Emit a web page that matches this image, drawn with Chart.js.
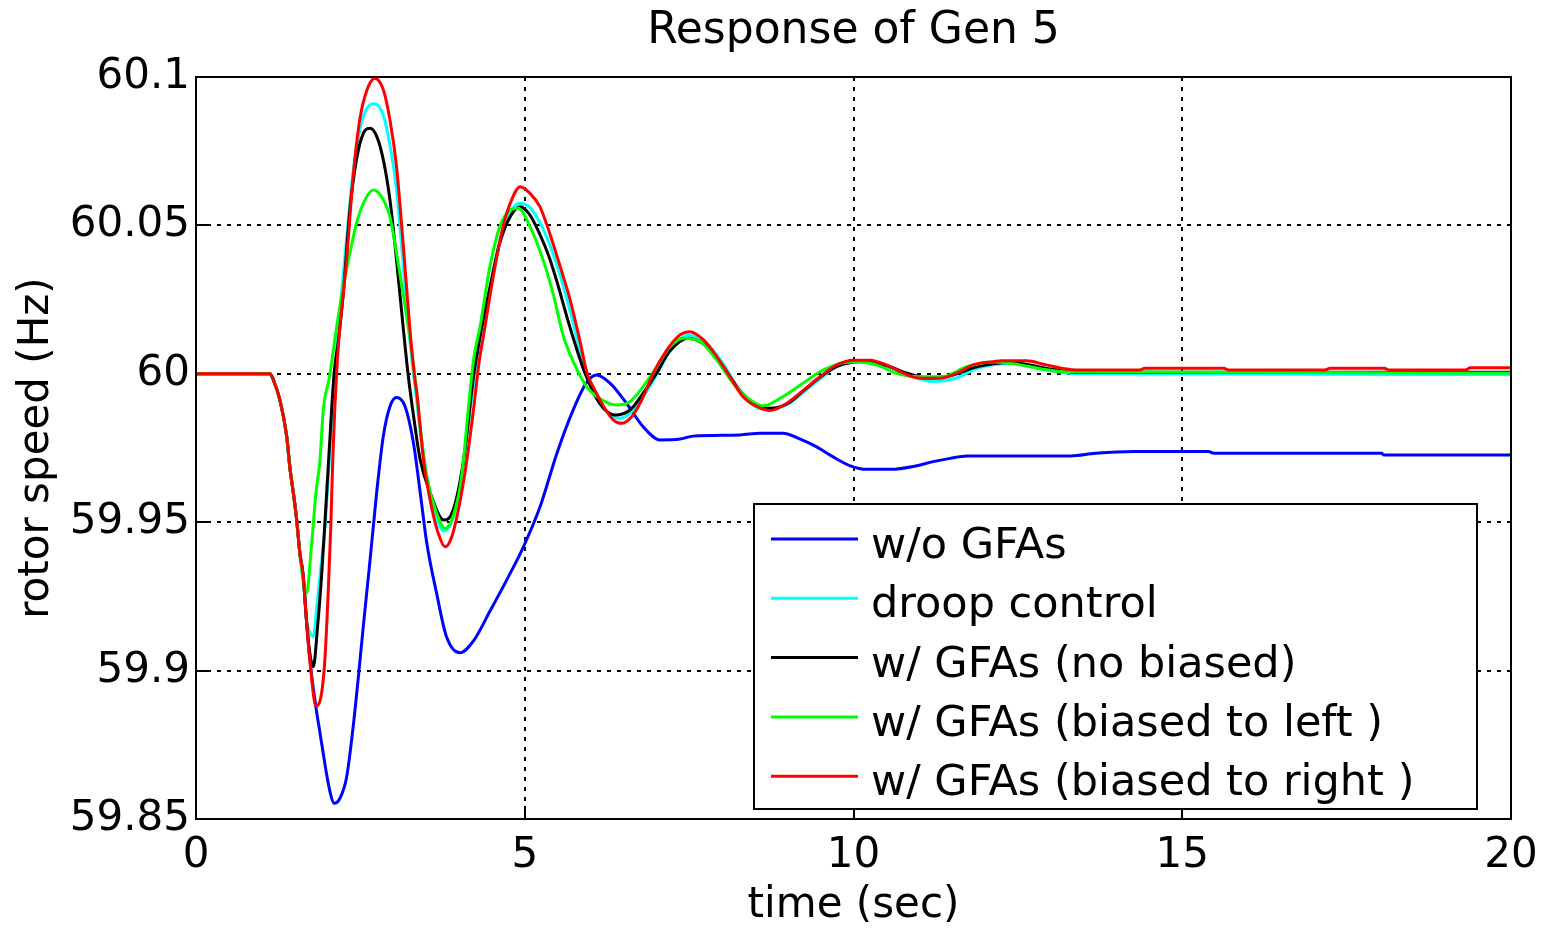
<!DOCTYPE html>
<html lang="en">
<head>
<meta charset="UTF-8">
<title>Response of Gen 5</title>
<script src="https://cdn.jsdelivr.net/npm/chart.js"></script>
<style>
  body { margin: 0; background: #fff; }
  #wrap { width: 1548px; height: 931px; }
</style>
</head>
<body>
<div id="wrap"><canvas id="genChart" width="1548" height="931"></canvas></div>
<script>
// rotor speed of Gen 5 (Hz) vs time (sec)
const timeNoGfa = [0, 1.125, 1.176, 1.278, 1.379, 1.43, 1.48, 1.53, 1.58, 1.63, 1.68, 1.73, 1.825, 1.886, 1.936, 1.987, 2.04, 2.1, 2.19, 2.29, 2.39, 2.47, 2.545, 2.646, 2.748, 2.849, 2.95, 3.05, 3.18, 3.305, 3.41, 3.51, 3.66, 3.81, 4.015, 4.22, 4.47, 4.725, 4.98, 5.23, 5.486, 5.74, 5.94, 6.09, 6.3, 6.55, 6.8, 7.06, 7.36, 7.56, 8.27, 8.58, 8.93, 9.19, 9.44, 9.69, 9.95, 10.2, 10.56, 10.96, 11.21, 11.47, 11.72, 13.3, 13.68, 14.28, 15.4, 15.48, 18.03, 18.07, 20];
const speedNoGfa = [60, 60, 59.998, 59.991, 59.979, 59.968, 59.960, 59.951, 59.9395, 59.932, 59.917, 59.904, 59.8875, 59.879, 59.872, 59.865, 59.859, 59.8553, 59.857, 59.864, 59.881, 59.898, 59.915, 59.937, 59.960, 59.979, 59.989, 59.992, 59.989, 59.977, 59.960, 59.943, 59.926, 59.9114, 59.906, 59.910, 59.920, 59.9305, 59.9417, 59.955, 59.973, 59.988, 59.997, 59.9996, 59.9968, 59.99, 59.9822, 59.9777, 59.978, 59.979, 59.9794, 59.980, 59.980, 59.978, 59.9754, 59.972, 59.969, 59.9678, 59.9678, 59.969, 59.9704, 59.9715, 59.9723, 59.9723, 59.9732, 59.9738, 59.9738, 59.9732, 59.9732, 59.9726, 59.9726];

const timeDroop = [0, 1.125, 1.176, 1.278, 1.379, 1.43, 1.48, 1.53, 1.58, 1.63, 1.68, 1.73, 1.784, 1.84, 1.9, 1.96, 2.02, 2.08, 2.14, 2.2, 2.3, 2.4, 2.5, 2.6, 2.72, 2.85, 2.95, 3.05, 3.15, 3.25, 3.33, 3.45, 3.6, 3.77, 3.9, 4.05, 4.2, 4.32, 4.47, 4.62, 4.78, 4.92, 5.08, 5.23, 5.38, 5.54, 5.69, 5.94, 6.14, 6.45, 6.7, 7.0, 7.2, 7.5, 7.75, 8.0, 8.25, 8.5, 8.73, 9.0, 9.25, 9.5, 9.75, 10.05, 10.5, 10.8, 11.2, 11.55, 11.9, 12.4, 12.9, 13.4, 20];
const speedDroop = [60, 60, 59.998, 59.991, 59.979, 59.968, 59.960, 59.951, 59.9395, 59.932, 59.917, 59.913, 59.9114, 59.922, 59.935, 59.948, 59.968, 59.99, 60.008, 60.024, 60.048, 60.07, 60.083, 60.0895, 60.091, 60.087, 60.077, 60.062, 60.037, 60.012, 59.996, 59.974, 59.956, 59.947, 59.951, 59.967, 59.993, 60.012, 60.029, 60.045, 60.0545, 60.0575, 60.056, 60.051, 60.0435, 60.033, 60.021, 60.0, 59.99, 59.985, 59.989, 59.9995, 60.0075, 60.013, 60.0105, 60.004, 59.995, 59.989, 59.988, 59.9898, 59.994, 59.9985, 60.0025, 60.0042, 60.0025, 60.0, 59.9974, 59.9985, 60.002, 60.0035, 60.0015, 60.0, 59.9998];

const timeNoBias = [0, 1.125, 1.176, 1.278, 1.379, 1.43, 1.48, 1.53, 1.58, 1.63, 1.68, 1.73, 1.784, 1.85, 1.91, 1.96, 2.02, 2.1, 2.17, 2.24, 2.34, 2.44, 2.545, 2.646, 2.75, 2.85, 2.95, 3.05, 3.15, 3.23, 3.32, 3.41, 3.56, 3.77, 3.91, 4.07, 4.22, 4.34, 4.47, 4.62, 4.78, 4.93, 5.08, 5.23, 5.36, 5.49, 5.69, 5.92, 6.14, 6.37, 6.6, 6.8, 7.0, 7.2, 7.49, 7.75, 8.0, 8.25, 8.5, 8.73, 9.0, 9.25, 9.5, 9.75, 10.1, 10.5, 10.8, 11.15, 11.5, 11.9, 12.4, 12.9, 13.4, 20];
const speedNoBias = [60, 60, 59.998, 59.991, 59.979, 59.968, 59.960, 59.951, 59.9395, 59.932, 59.917, 59.906, 59.9013, 59.915, 59.932, 59.9496, 59.972, 60.0, 60.012, 60.027, 60.0552, 60.072, 60.081, 60.0827, 60.0799, 60.072, 60.0586, 60.0383, 60.0159, 59.999, 59.984, 59.971, 59.96, 59.9507, 59.954, 59.971, 59.999, 60.015, 60.029, 60.044, 60.053, 60.0563, 60.0535, 60.047, 60.040, 60.031, 60.0155, 60.0, 59.99, 59.9861, 59.9878, 59.9934, 60.0, 60.0075, 60.012, 60.0095, 60.003, 59.995, 59.9897, 59.9884, 59.990, 59.9945, 59.999, 60.0025, 60.0041, 60.0028, 60.0003, 59.9985, 59.9995, 60.0025, 60.0038, 60.002, 60.0005, 60.0005];

const timeLeft = [0, 1.125, 1.176, 1.278, 1.379, 1.43, 1.48, 1.53, 1.58, 1.63, 1.68, 1.76, 1.825, 1.886, 1.936, 2.03, 2.14, 2.24, 2.34, 2.44, 2.57, 2.7, 2.82, 2.95, 3.05, 3.15, 3.25, 3.33, 3.41, 3.51, 3.66, 3.79, 3.91, 4.04, 4.14, 4.22, 4.32, 4.47, 4.62, 4.78, 4.9, 5.08, 5.28, 5.43, 5.59, 5.74, 5.94, 6.14, 6.4, 6.6, 6.8, 7.01, 7.21, 7.41, 7.67, 7.92, 8.17, 8.43, 8.63, 8.88, 9.19, 9.49, 9.8, 10.05, 10.35, 10.65, 11.01, 11.36, 11.72, 12.13, 12.4, 13.23, 20];
const speedLeft = [60, 60, 59.998, 59.991, 59.979, 59.968, 59.960, 59.951, 59.9395, 59.930, 59.926, 59.943, 59.96, 59.971, 59.9878, 59.999, 60.0159, 60.0293, 60.0406, 60.0507, 60.0586, 60.0619, 60.0597, 60.0529, 60.0406, 60.0271, 60.0125, 59.999, 59.9822, 59.9653, 59.953, 59.9479, 59.9519, 59.9653, 59.9878, 60.0046, 60.0159, 60.0361, 60.0496, 60.0552, 60.0558, 60.0496, 60.0383, 60.0271, 60.0125, 60.004, 59.9957, 59.9917, 59.9895, 59.9906, 59.9957, 60.0024, 60.0091, 60.012, 60.0108, 60.0046, 59.9968, 59.9912, 59.9892, 59.9917, 59.9962, 60.0007, 60.0035, 60.0041, 60.003, 60.0002, 59.999, 59.999, 60.0024, 60.004, 60.0035, 60.0007, 60.0003];

const timeRight = [0, 1.125, 1.176, 1.278, 1.379, 1.43, 1.48, 1.53, 1.58, 1.63, 1.68, 1.73, 1.825, 1.91, 1.96, 2.01, 2.05, 2.08, 2.11, 2.15, 2.19, 2.29, 2.39, 2.49, 2.6, 2.72, 2.85, 2.95, 3.05, 3.15, 3.25, 3.33, 3.36, 3.46, 3.56, 3.685, 3.79, 3.89, 4.02, 4.12, 4.22, 4.31, 4.37, 4.52, 4.67, 4.8, 4.93, 5.08, 5.23, 5.38, 5.54, 5.69, 5.84, 5.95, 6.04, 6.2, 6.35, 6.47, 6.63, 6.78, 6.955, 7.16, 7.36, 7.51, 7.72, 7.92, 8.12, 8.32, 8.53, 8.73, 8.98, 9.24, 9.49, 9.745, 10.0, 10.25, 10.5, 10.76, 11.01, 11.32, 11.57, 11.82, 12.13, 12.25, 12.63, 12.93, 13.38, 14.36, 14.43, 15.63, 15.7, 17.17, 17.25, 18.07, 18.14, 19.31, 19.38, 20];
const speedRight = [60, 60, 59.998, 59.991, 59.979, 59.968, 59.960, 59.951, 59.9395, 59.932, 59.917, 59.904, 59.888, 59.8924, 59.9036, 59.926, 59.9485, 59.971, 59.9878, 60.0046, 60.0159, 60.0383, 60.0664, 60.0855, 60.0956, 60.0996, 60.0956, 60.0855, 60.0698, 60.044, 60.0159, 59.998, 59.9934, 59.971, 59.9575, 59.9462, 59.9417, 59.9451, 59.9575, 59.971, 59.9878, 60.0046, 60.0125, 60.0327, 60.0496, 60.0586, 60.063, 60.0608, 60.0563, 60.0473, 60.0361, 60.0249, 60.011, 60.0, 59.9957, 59.989, 59.9844, 59.9833, 59.9856, 59.9912, 60.0002, 60.008, 60.0131, 60.0142, 60.0114, 60.0058, 59.999, 59.9923, 59.989, 59.9876, 59.99, 59.9945, 59.999, 60.003, 60.0046, 60.0046, 60.003, 60.0002, 59.9985, 59.9985, 60.0002, 60.003, 60.0041, 60.0044, 60.0044, 60.003, 60.0013, 60.0013, 60.0019, 60.0019, 60.0013, 60.0013, 60.0019, 60.0019, 60.0013, 60.0013, 60.002, 60.002];

const seriesLabels = ['w/o GFAs', 'droop control', 'w/ GFAs (no biased)', 'w/ GFAs (biased to left )', 'w/ GFAs (biased to right )'];
const seriesColors = ['#0000ff', '#00ffff', '#000000', '#00ff00', '#ff0000'];

const xTicks = [0, 5, 10, 15, 20];
const xTickLabels = ['0', '5', '10', '15', '20'];
const yTicks = [59.85, 59.9, 59.95, 60, 60.05, 60.1];
const yTickLabels = ['59.85', '59.9', '59.95', '60', '60.05', '60.1'];

const FONT = 'DejaVu Sans';

function toPoints(t, v) {
    return t.map((x, i) => ({ x: x, y: v[i] }));
}

const seriesData = [
    toPoints(timeNoGfa, speedNoGfa),
    toPoints(timeDroop, speedDroop),
    toPoints(timeNoBias, speedNoBias),
    toPoints(timeLeft, speedLeft),
    toPoints(timeRight, speedRight)
];

// red on top, then green, black, cyan, blue
const drawOrder = [4, 3, 2, 1, 0];

const datasets = seriesData.map((pts, i) => ({
    label: seriesLabels[i],
    data: pts,
    borderColor: seriesColors[i],
    borderWidth: 3,
    pointRadius: 0,
    fill: false,
    cubicInterpolationMode: 'monotone',
    order: drawOrder[i]
}));

// hide grid lines sitting on the frame edges
function gridColor(first, last) {
    return c => (c.tick && (c.tick.value === first || c.tick.value === last)) ? 'rgba(0,0,0,0)' : '#000';
}

const frame = {
    id: 'frame',
    afterDraw(chart) {
        const { ctx, chartArea: a } = chart;
        ctx.save();
        ctx.strokeStyle = '#000';
        ctx.lineWidth = 2;
        ctx.strokeRect(a.left, a.top, a.right - a.left, a.bottom - a.top);
        ctx.restore();
    }
};

const boxLegend = {
    id: 'boxLegend',
    afterDraw(chart) {
        const ctx = chart.ctx;
        const x0 = 754, y0 = 504, w = 723, h = 305;
        ctx.save();
        ctx.fillStyle = '#fff';
        ctx.fillRect(x0, y0, w, h);
        ctx.strokeStyle = '#000';
        ctx.lineWidth = 2;
        ctx.strokeRect(x0, y0, w, h);
        ctx.font = '43px "' + FONT + '"';
        ctx.textBaseline = 'middle';
        ctx.textAlign = 'left';
        chart.data.datasets.forEach((ds, i) => {
            const y = y0 + 43 + i * 59.3;
            ctx.strokeStyle = ds.borderColor;
            ctx.lineWidth = 3;
            ctx.beginPath();
            ctx.moveTo(771, y - 8);
            ctx.lineTo(858, y - 8);
            ctx.stroke();
            ctx.fillStyle = '#000';
            ctx.fillText(ds.label, 871, y);
        });
        ctx.restore();
    }
};

new Chart(document.getElementById('genChart'), {
    type: 'line',
    data: { datasets: datasets },
    plugins: [frame, boxLegend],
    options: {
        responsive: false,
        animation: false,
        devicePixelRatio: 1,
        events: [],
        layout: { padding: { left: 0, top: 0, right: 37, bottom: 0 } },
        plugins: {
            legend: { display: false },
            tooltip: { enabled: false },
            title: {
                display: true,
                text: 'Response of Gen 5',
                fullSize: false,
                color: '#000',
                font: { family: FONT, size: 44, weight: 'normal', lineHeight: 1.2 },
                padding: { top: 5, bottom: 19.2 }
            }
        },
        scales: {
            x: {
                type: 'linear',
                min: 0,
                max: 20,
                afterBuildTicks: s => { s.ticks = xTicks.map(v => ({ value: v })); },
                afterFit: s => { s.height = 112; s.paddingLeft = 0; s.paddingRight = 0; },
                ticks: {
                    color: '#000',
                    padding: 25,
                    maxRotation: 0,
                    font: { family: FONT, size: 42 },
                    callback: (v, i) => xTickLabels[i]
                },
                grid: {
                    color: gridColor(0, 20), lineWidth: 2,
                    drawTicks: true, tickLength: -13, tickWidth: 2, tickBorderDash: []
                },
                border: { display: true, color: '#000', width: 2, dash: [4, 6] },
                title: {
                    display: true,
                    text: 'time (sec)',
                    color: '#000',
                    font: { family: FONT, size: 42, lineHeight: 1.2 },
                    padding: { top: 0, bottom: 0 }
                }
            },
            y: {
                type: 'linear',
                min: 59.85,
                max: 60.1,
                afterBuildTicks: s => { s.ticks = yTicks.map(v => ({ value: v })); },
                afterFit: s => { s.width = 196; s.paddingTop = 0; s.paddingBottom = 0; },
                ticks: {
                    color: '#000',
                    padding: 19,
                    font: { family: FONT, size: 42 },
                    callback: (v, i) => yTickLabels[i]
                },
                grid: {
                    color: gridColor(59.85, 60.1), lineWidth: 2,
                    drawTicks: true, tickLength: -13, tickWidth: 2, tickBorderDash: []
                },
                border: { display: true, color: '#000', width: 2, dash: [4, 6] },
                title: {
                    display: true,
                    text: 'rotor speed (Hz)',
                    color: '#000',
                    font: { family: FONT, size: 42, lineHeight: 1.2 },
                    padding: { top: 12, bottom: 0 }
                }
            }
        }
    }
});
</script>
</body>
</html>
